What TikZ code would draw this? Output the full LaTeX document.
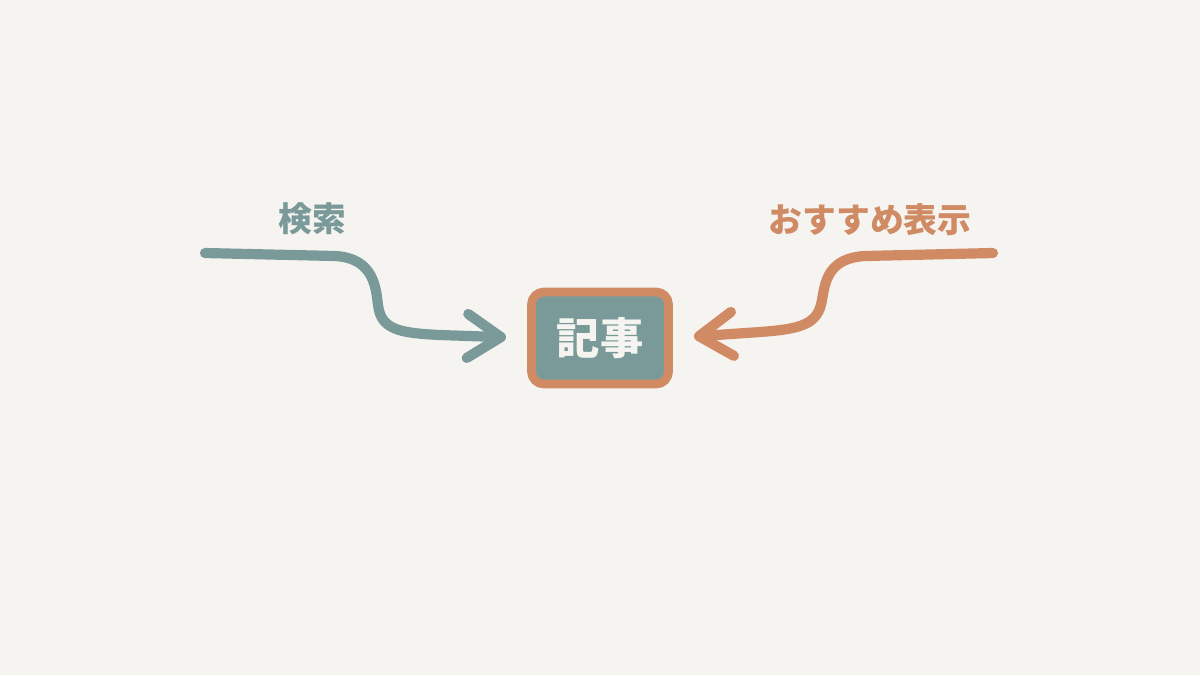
\documentclass[tikz,border=0pt]{standalone}
\usepackage{fontspec}
\newfontfamily\jpfont{Noto Sans CJK JP}
\usetikzlibrary{arrows.meta}
\definecolor{sage}{HTML}{7A9A9A}
\definecolor{clay}{HTML}{D08A64}
\definecolor{paper}{HTML}{F5F4F0}

\begin{document}
\begin{tikzpicture}[
    x=0.01cm,
    y=-0.01cm,
    every path/.style={line cap=round, line join=round},
    every node/.style={font=\jpfont\bfseries},
    flow/.style={line width=2.9pt, shorten >=6pt,
        -{Straight Barb[length=9.5pt,width=12.5pt,round]}},
    label/.style={font=\jpfont\bfseries\fontsize{9.6pt}{11pt}\selectfont},
    artbox/.style={draw=clay, fill=sage, line width=2.5pt, rounded corners=3.6pt,
        minimum width=1.37cm, minimum height=0.92cm, text=paper,
        font=\jpfont\bfseries\fontsize{12.3pt}{14pt}\selectfont}
    ]

    % background
    \fill[paper] (0,0) rectangle (1200,675);
    \useasboundingbox (0,0) rectangle (1200,675);

    % nodes
    \node[artbox] (art) at (600,338) {記事};
    \node[label, text=sage] (srch) at (312,219) {検索};
    \node[label, text=clay] (reco) at (870,220) {おすすめ表示};

    \coordinate (srchstart) at (205,253);
    \coordinate (recostart) at (993,253);

    % edges
    \draw[flow, sage] (srchstart) -- (335,256)
        .. controls (375,258) and (376,290) .. (378,305)
        .. controls (381,330) and (400,333) .. (440,335) -- (art.west);
    \draw[flow, clay] (recostart) -- (865,256)
        .. controls (828,258) and (825,282) .. (822,300)
        .. controls (818,325) and (800,329) .. (760,332) -- (art.east);

\end{tikzpicture}
\end{document}
